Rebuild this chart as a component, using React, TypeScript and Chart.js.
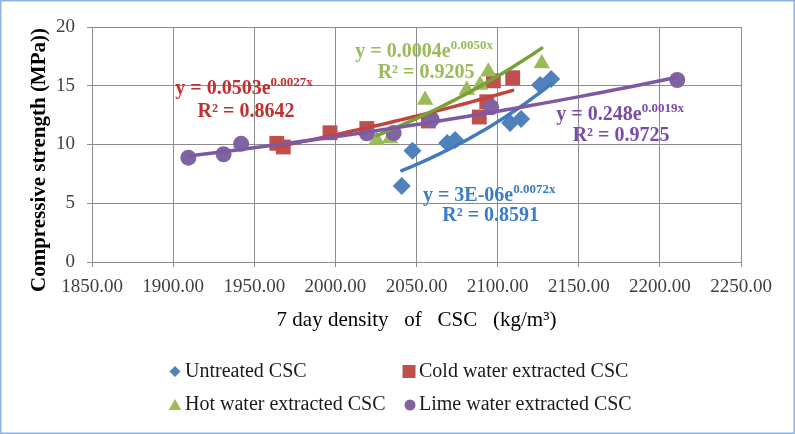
import React, { useEffect, useRef } from "react";
import { Chart, registerables } from "chart.js";

Chart.register(...registerables);

const FONT = "'Liberation Serif', 'Times New Roman', serif";

// ---- data ----
const seriesNames = [
  "Untreated CSC",
  "Cold water extracted CSC",
  "Hot water extracted CSC",
  "Lime water extracted CSC",
];

const untreatedX = [2040.9, 2047.5, 2068.9, 2073.8, 2107.7, 2114.5, 2126.2, 2133.0];
const untreatedY = [6.47, 9.47, 10.13, 10.38, 11.83, 12.17, 15.06, 15.57];

const coldX = [1963.9, 1967.9, 1996.7, 2019.4, 2057.3, 2088.7, 2093.3, 2097.4, 2109.3];
const coldY = [10.1, 9.79, 11.0, 11.36, 12.0, 12.34, 13.64, 15.42, 15.68];

const hotX = [2025.5, 2033.7, 2055.3, 2081.0, 2089.2, 2094.3, 2127.2];
const hotY = [10.38, 10.52, 13.79, 14.64, 15.06, 16.2, 16.9];

const limeX = [1909.4, 1931.1, 1941.9, 2019.4, 2035.9, 2059.4, 2096.0, 2210.7];
const limeY = [8.88, 9.17, 10.06, 10.95, 10.98, 12.14, 13.17, 15.49];

const xMin = 1850;
const xMax = 2250;
const xStep = 50;
const yMin = 0;
const yMax = 20;
const yStep = 5;

const equationMain = ["y = 3E-06e", "y = 0.0503e", "y = 0.0004e", "y = 0.248e"];
const equationSup = ["0.0072x", "0.0027x", "0.0050x", "0.0019x"];
const rSquaredText = ["R² = 0.8591", "R² = 0.8642", "R² = 0.9205", "R² = 0.9725"];

const xTitle = "7 day density   of   CSC   (kg/m³)";
const yTitle = "Compressive strength (MPa))";

// ---- styles ----
const markerColors = ["#4F81BD", "#C0504D", "#9BBB59", "#8064A2"];
const trendColors = ["#4479BE", "#C4433F", "#77A236", "#7D59A4"];
const labelColors = ["#3A7CC6", "#C0302E", "#9BBB59", "#7A4CA8"];
const pointStyles = ["rectRot", "rect", "triangle", "circle"];
const pointRadii = [9, 10.5, 9.5, 8];

// label line centres given in axis units
const eqPos = [
  { x1: 2094.8, y1: 5.66, x2: 2095.7, y2: 3.96 },
  { x1: 1943.7, y1: 14.72, x2: 1944.9, y2: 12.81 },
  { x1: 2054.7, y1: 17.87, x2: 2055.9, y2: 16.13 },
  { x1: 2175.5, y1: 12.51, x2: 2176.1, y2: 10.77 },
];

const legendSlots = [
  { mx: 175, tx: 185, y: 371.5 },
  { mx: 409, tx: 419, y: 371.5 },
  { mx: 175, tx: 185, y: 405 },
  { mx: 410, tx: 419, y: 405 },
];

function expFit(xs: number[], ys: number[]) {
  const n = xs.length;
  const ly = ys.map((v) => Math.log(v));
  const mx = xs.reduce((a, b) => a + b, 0) / n;
  const my = ly.reduce((a, b) => a + b, 0) / n;
  let sxy = 0;
  let sxx = 0;
  for (let i = 0; i < n; i++) {
    sxy += (xs[i] - mx) * (ly[i] - my);
    sxx += (xs[i] - mx) * (xs[i] - mx);
  }
  const b = sxy / sxx;
  const a = my - b * mx;
  return (x: number) => Math.exp(a + b * x);
}

function trendPoints(xs: number[], ys: number[]) {
  const f = expFit(xs, ys);
  const lo = Math.min(...xs);
  const hi = Math.max(...xs);
  const pts: { x: number; y: number }[] = [];
  const steps = 40;
  for (let i = 0; i <= steps; i++) {
    const x = lo + ((hi - lo) * i) / steps;
    pts.push({ x, y: f(x) });
  }
  return pts;
}

function drawMarker(ctx: CanvasRenderingContext2D, style: string, x: number, y: number, r: number, color: string) {
  ctx.save();
  ctx.fillStyle = color;
  ctx.beginPath();
  if (style === "rectRot") {
    ctx.moveTo(x, y - r);
    ctx.lineTo(x + r, y);
    ctx.lineTo(x, y + r);
    ctx.lineTo(x - r, y);
    ctx.closePath();
  } else if (style === "rect") {
    ctx.rect(x - r, y - r, 2 * r, 2 * r);
  } else if (style === "triangle") {
    ctx.moveTo(x, y - r);
    ctx.lineTo(x + r * 1.05, y + r * 0.85);
    ctx.lineTo(x - r * 1.05, y + r * 0.85);
    ctx.closePath();
  } else {
    ctx.arc(x, y, r, 0, Math.PI * 2);
  }
  ctx.fill();
  ctx.restore();
}

const decorPlugin = {
  id: "decor",
  beforeDraw(chart: any) {
    const ctx = chart.ctx;
    ctx.save();
    ctx.fillStyle = "#ffffff";
    ctx.fillRect(0, 0, chart.width, chart.height);
    ctx.restore();
  },
  afterDraw(chart: any) {
    const ctx: CanvasRenderingContext2D = chart.ctx;
    const xs = chart.scales.x;
    const ys = chart.scales.y;

    // trendline equations
    for (let i = 0; i < 4; i++) {
      const p = eqPos[i];
      ctx.save();
      ctx.fillStyle = labelColors[i];
      ctx.textBaseline = "middle";
      ctx.font = `bold 20px ${FONT}`;
      const wMain = ctx.measureText(equationMain[i]).width;
      ctx.font = `bold 13px ${FONT}`;
      const wSup = ctx.measureText(equationSup[i]).width;
      const cx1 = xs.getPixelForValue(p.x1);
      const cy1 = ys.getPixelForValue(p.y1);
      const left = cx1 - (wMain + wSup) / 2;
      ctx.textAlign = "left";
      ctx.font = `bold 20px ${FONT}`;
      ctx.fillText(equationMain[i], left, cy1);
      ctx.font = `bold 13px ${FONT}`;
      ctx.fillText(equationSup[i], left + wMain, cy1 - 6);
      ctx.font = `bold 20px ${FONT}`;
      ctx.textAlign = "center";
      ctx.fillText(rSquaredText[i], xs.getPixelForValue(p.x2), ys.getPixelForValue(p.y2));
      ctx.restore();
    }

    // y axis title
    ctx.save();
    ctx.translate(40, 160);
    ctx.rotate(-Math.PI / 2);
    ctx.font = `bold 21px ${FONT}`;
    ctx.fillStyle = "#000000";
    ctx.textAlign = "center";
    ctx.textBaseline = "middle";
    ctx.fillText(yTitle, 0, 0);
    ctx.restore();

    // legend
    const legendR = [5.5, 6.5, 6, 5.5];
    for (let i = 0; i < 4; i++) {
      const s = legendSlots[i];
      drawMarker(ctx, pointStyles[i], s.mx, s.y, legendR[i], markerColors[i]);
      ctx.save();
      ctx.font = `20px ${FONT}`;
      ctx.fillStyle = "#1a1a1a";
      ctx.textAlign = "left";
      ctx.textBaseline = "middle";
      ctx.fillText(seriesNames[i], s.tx, s.y);
      ctx.restore();
    }

    // outer border
    ctx.save();
    ctx.strokeStyle = "#8DB3E2";
    ctx.lineWidth = 1.5;
    ctx.strokeRect(0.75, 0.75, chart.width - 1.5, chart.height - 1.5);
    ctx.restore();
  },
};

export default function App() {
  const ref = useRef<HTMLCanvasElement | null>(null);

  useEffect(() => {
    if (!ref.current) return;
    const xsArr = [untreatedX, coldX, hotX, limeX];
    const ysArr = [untreatedY, coldY, hotY, limeY];

    const scatterSets = xsArr.map((xs, i) => ({
      type: "scatter" as const,
      label: seriesNames[i],
      data: xs.map((x, j) => ({ x, y: ysArr[i][j] })),
      pointStyle: pointStyles[i],
      pointRadius: pointRadii[i],
      pointBackgroundColor: markerColors[i],
      pointBorderColor: markerColors[i],
      pointBorderWidth: 0,
      showLine: false,
      order: 8 - i,
    }));

    const trendSets = xsArr.map((xs, i) => ({
      type: "line" as const,
      label: seriesNames[i] + " trend",
      data: trendPoints(xs, ysArr[i]),
      borderColor: trendColors[i],
      borderWidth: 3.5,
      borderCapStyle: "round" as const,
      pointRadius: 0,
      tension: 0,
      fill: false,
      order: 4 - i,
    }));

    const gridColor = "#8c8c8c";

    const chart = new Chart(ref.current, {
      type: "scatter",
      data: { datasets: [...scatterSets, ...trendSets] as any },
      options: {
        animation: false,
        responsive: false,
        maintainAspectRatio: false,
        layout: { padding: { top: 27, right: 54, bottom: 0, left: 0 } },
        plugins: {
          legend: { display: false },
          tooltip: { enabled: false },
        },
        scales: {
          x: {
            type: "linear",
            min: xMin,
            max: xMax,
            ticks: {
              stepSize: xStep,
              autoSkip: false,
              maxRotation: 0,
              padding: 9,
              color: "#404040",
              font: { family: FONT, size: 19 },
              callback: (v: any) => Number(v).toFixed(2),
            },
            grid: { color: gridColor, lineWidth: 1, tickLength: 5 },
            border: { color: gridColor, width: 1 },
            title: {
              display: true,
              text: xTitle,
              color: "#000000",
              font: { family: FONT, size: 21 },
              padding: { top: 0, bottom: 101 },
            },
            afterFit: (s: any) => {
              s.height = 172;
            },
          },
          y: {
            type: "linear",
            min: yMin,
            max: yMax,
            ticks: {
              stepSize: yStep,
              padding: 12,
              color: "#404040",
              font: { family: FONT, size: 19 },
            },
            grid: { color: gridColor, lineWidth: 1, tickLength: 5 },
            border: { color: gridColor, width: 1 },
            afterFit: (s: any) => {
              s.width = 92;
            },
          },
        },
      } as any,
      plugins: [decorPlugin],
    });
    return () => chart.destroy();
  }, []);

  return (
    <div style={{ position: "fixed", left: 0, top: 0, width: 795, height: 434, background: "#fff" }}>
      <canvas ref={ref} width={795} height={434} style={{ display: "block", width: 795, height: 434 }} />
    </div>
  );
}
